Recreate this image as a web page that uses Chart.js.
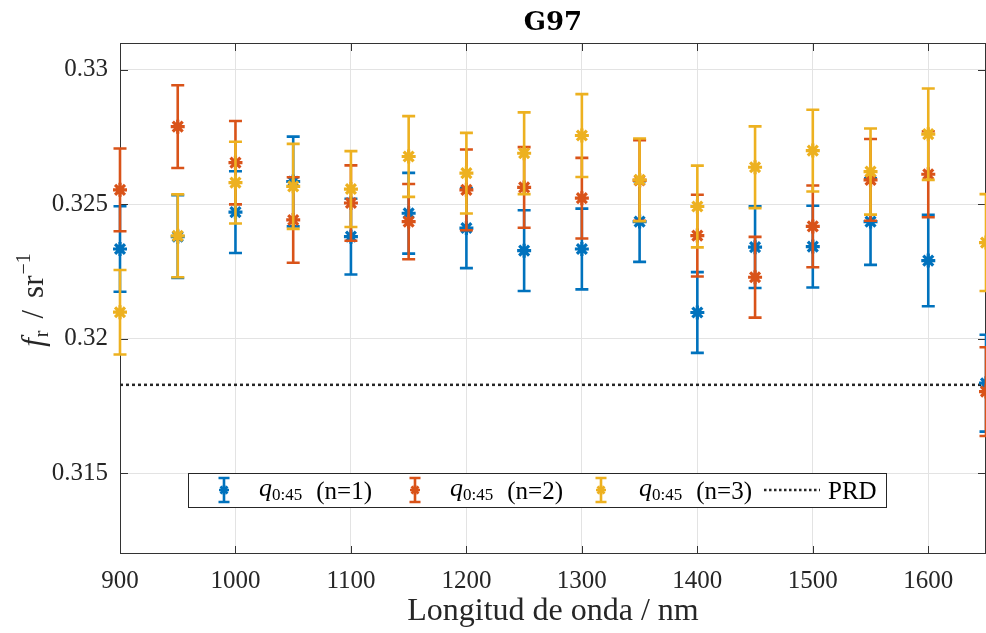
<!DOCTYPE html>
<html>
<head>
<meta charset="utf-8">
<script src="https://cdn.jsdelivr.net/npm/chart.js@4.4.1/dist/chart.umd.min.js"></script>
<style>
  html, body { margin: 0; padding: 0; background: #fff; }
</style>
</head>
<body>
<canvas id="chart" width="986" height="633"></canvas>
<script>
// wavelengths (nm)
const wavelengths = [900, 950, 1000, 1050, 1100, 1150, 1200, 1250, 1300, 1350, 1400, 1450, 1500, 1550, 1600, 1650];

// f_r values and uncertainties for each n
const fr_n1 = [0.32334, 0.32380, 0.32471, 0.32585, 0.32380, 0.32467, 0.32412, 0.32328, 0.32334, 0.32436, 0.32098, 0.32341, 0.32343, 0.32436, 0.32291, 0.31835];
const u_n1  = [0.00159, 0.00154, 0.00152, 0.00167, 0.00141, 0.00150, 0.00149, 0.00150, 0.00150, 0.00150, 0.00150, 0.00152, 0.00152, 0.00161, 0.00170, 0.00180];

const fr_n2 = [0.32554, 0.32789, 0.32655, 0.32442, 0.32505, 0.32436, 0.32554, 0.32563, 0.32523, 0.32589, 0.32384, 0.32229, 0.32418, 0.32591, 0.32612, 0.31804];
const u_n2  = [0.00154, 0.00154, 0.00155, 0.00159, 0.00140, 0.00140, 0.00150, 0.00150, 0.00150, 0.00150, 0.00152, 0.00150, 0.00152, 0.00152, 0.00160, 0.00165];

const fr_n3 = [0.32099, 0.32383, 0.32581, 0.32567, 0.32557, 0.32678, 0.32616, 0.32690, 0.32756, 0.32591, 0.32492, 0.32638, 0.32700, 0.32622, 0.32761, 0.32358];
const u_n3  = [0.00157, 0.00154, 0.00152, 0.00158, 0.00141, 0.00150, 0.00150, 0.00152, 0.00154, 0.00154, 0.00152, 0.00152, 0.00152, 0.00160, 0.00170, 0.00180];

const prdLevel = 0.31829;

const xTicks = [900, 1000, 1100, 1200, 1300, 1400, 1500, 1600];
const yTicks = [0.315, 0.32, 0.325, 0.33];
const yTickLabels = ['0.315', '0.32', '0.325', '0.33'];
const seriesLabels = ['(n=1)', '(n=2)', '(n=3)'];

const colors = ['#0072BD', '#D95319', '#EDB120'];
const serif = '"Liberation Serif", "Times New Roman", serif';

function toPoints(ys) {
    return wavelengths.map((w, i) => ({ x: w, y: ys[i] }));
}

function drawStar(ctx, x, y, r) {
    ctx.beginPath();
    for (let k = 0; k < 4; k++) {
        const a = k * Math.PI / 4;
        ctx.moveTo(x - r * Math.cos(a), y - r * Math.sin(a));
        ctx.lineTo(x + r * Math.cos(a), y + r * Math.sin(a));
    }
    ctx.stroke();
}

// error bars under each dataset's own markers
const errorBars = {
    id: 'errorBars',
    beforeDatasetDraw(chart, args) {
        const ds = chart.data.datasets[args.index];
        if (!ds.errors) return;
        const ctx = chart.ctx;
        const xs = chart.scales.x, ys = chart.scales.y;
        ctx.save();
        ctx.strokeStyle = ds.borderColor;
        ctx.lineWidth = 2.6;
        ds.data.forEach((p, i) => {
            const px = xs.getPixelForValue(p.x);
            const top = ys.getPixelForValue(p.y + ds.errors[i]);
            const bot = ys.getPixelForValue(p.y - ds.errors[i]);
            ctx.beginPath();
            ctx.moveTo(px, top); ctx.lineTo(px, bot);
            ctx.moveTo(px - 6.5, top); ctx.lineTo(px + 6.5, top);
            ctx.moveTo(px - 6.5, bot); ctx.lineTo(px + 6.5, bot);
            ctx.stroke();
        });
        ctx.restore();
    }
};

// box and inward ticks (MATLAB style)
const frame = {
    id: 'frame',
    beforeDatasetsDraw(chart) {
        const { ctx, chartArea: a, scales: { x, y } } = chart;
        ctx.save();
        ctx.strokeStyle = '#333';
        ctx.lineWidth = 1;
        ctx.strokeRect(a.left + 0.5, a.top + 0.5, a.right - a.left - 1, a.bottom - a.top - 1);
        ctx.beginPath();
        const tl = 8;
        xTicks.forEach(v => {
            const px = Math.round(x.getPixelForValue(v)) + 0.5;
            ctx.moveTo(px, a.bottom); ctx.lineTo(px, a.bottom - tl);
            ctx.moveTo(px, a.top); ctx.lineTo(px, a.top + tl);
        });
        yTicks.forEach(v => {
            const py = Math.round(y.getPixelForValue(v)) + 0.5;
            ctx.moveTo(a.left, py); ctx.lineTo(a.left + tl, py);
            ctx.moveTo(a.right, py); ctx.lineTo(a.right - tl, py);
        });
        ctx.stroke();
        ctx.restore();
    }
};

// title, axis titles and legend
const texts = {
    id: 'texts',
    afterDraw(chart) {
        const { ctx, chartArea: a } = chart;
        const cx = (a.left + a.right) / 2;
        ctx.save();
        ctx.fillStyle = '#000';
        ctx.textAlign = 'center';
        ctx.textBaseline = 'alphabetic';
        ctx.font = 'bold 26px "DejaVu Serif", serif';
        ctx.fillText('G97', cx, 30);

        ctx.fillStyle = '#262626';
        ctx.font = '32px ' + serif;
        ctx.fillText('Longitud de onda / nm', cx, 620);

        // y title: f_r / sr^-1
        ctx.save();
        ctx.translate(43, 300);
        ctx.rotate(-Math.PI / 2);
        ctx.textAlign = 'left';
        const parts = [
            { t: 'f', f: 'italic 31px ' + serif, dy: 0, gap: 1 },
            { t: 'r', f: '20px ' + serif, dy: 5, gap: 12 },
            { t: '/', f: '31px ' + serif, dy: 0, gap: 12 },
            { t: 'sr', f: '31px ' + serif, dy: 0, gap: 1 },
            { t: '\u22121', f: '20px ' + serif, dy: -13, gap: 0 }
        ];
        let total = 0;
        parts.forEach(p => { ctx.font = p.f; p.w = ctx.measureText(p.t).width; total += p.w + p.gap; });
        let cur = -total / 2;
        parts.forEach(p => { ctx.font = p.f; ctx.fillText(p.t, cur, p.dy); cur += p.w + p.gap; });
        ctx.restore();

        // legend
        const box = { left: a.left + 68, top: a.bottom - 81, w: 698, h: 34 };
        ctx.fillStyle = '#fff';
        ctx.fillRect(box.left, box.top, box.w, box.h);
        ctx.strokeStyle = '#262626';
        ctx.lineWidth = 1;
        ctx.strokeRect(box.left + 0.5, box.top + 0.5, box.w, box.h);
        const my = box.top + box.h / 2;
        const iconX = [36, 227, 413];
        const textX = [71, 262, 451];
        seriesLabels.forEach((lab, i) => {
            const ix = box.left + iconX[i];
            ctx.strokeStyle = colors[i];
            ctx.lineWidth = 2.6;
            ctx.beginPath();
            ctx.moveTo(ix, my - 12); ctx.lineTo(ix, my + 12);
            ctx.moveTo(ix - 5.5, my - 12); ctx.lineTo(ix + 5.5, my - 12);
            ctx.moveTo(ix - 5.5, my + 12); ctx.lineTo(ix + 5.5, my + 12);
            ctx.stroke();
            drawStar(ctx, ix, my, 5);

            let tx = box.left + textX[i];
            ctx.fillStyle = '#000';
            ctx.textAlign = 'left';
            ctx.font = 'italic 26px ' + serif;
            ctx.fillText('q', tx, my + 6);
            tx += ctx.measureText('q').width;
            ctx.font = '17px ' + serif;
            ctx.fillText('0:45', tx, my + 10);
            tx += ctx.measureText('0:45').width + 14;
            ctx.font = '25px ' + serif;
            ctx.fillText(lab, tx, my + 9);
        });
        ctx.strokeStyle = '#262626';
        ctx.lineWidth = 2.5;
        ctx.setLineDash([2.5, 2.5]);
        ctx.beginPath();
        ctx.moveTo(box.left + 576, my); ctx.lineTo(box.left + 632, my);
        ctx.stroke();
        ctx.setLineDash([]);
        ctx.fillStyle = '#000';
        ctx.font = '25px ' + serif;
        ctx.fillText('PRD', box.left + 640, my + 9);
        ctx.restore();
    }
};

const seriesDefs = [
    { v: fr_n1, u: u_n1, order: 2 },
    { v: fr_n2, u: u_n2, order: 1 },
    { v: fr_n3, u: u_n3, order: 0 }
];

const datasets = seriesDefs.map((s, i) => ({
    label: seriesLabels[i],
    data: toPoints(s.v),
    errors: s.u,
    borderColor: colors[i],
    backgroundColor: colors[i],
    pointStyle: 'star',
    pointRadius: 7,
    pointBorderWidth: 3.2,
    showLine: false,
    clip: false,
    order: s.order
}));

datasets.push({
    label: 'PRD',
    data: [{ x: wavelengths[0], y: prdLevel }, { x: wavelengths[wavelengths.length - 1], y: prdLevel }],
    borderColor: '#262626',
    borderWidth: 2.5,
    borderDash: [3, 3],
    pointRadius: 0,
    showLine: true,
    order: 3
});

new Chart(document.getElementById('chart'), {
    type: 'scatter',
    data: { datasets: datasets },
    options: {
        responsive: false,
        devicePixelRatio: 1,
        animation: false,
        layout: { autoPadding: false, padding: { top: 43, left: 0, right: 0, bottom: 0 } },
        plugins: { legend: { display: false }, tooltip: { enabled: false } },
        scales: {
            x: {
                type: 'linear',
                min: 900,
                max: 1650,
                afterBuildTicks: s => { s.ticks = xTicks.map(v => ({ value: v })); },
                afterFit: s => { s.height = 79; s.paddingRight = 0; s.paddingLeft = 0; },
                grid: { color: '#e3e3e3', lineWidth: 1, drawTicks: false },
                border: { display: false },
                ticks: {
                    padding: 12,
                    color: '#262626',
                    font: { family: serif, size: 25 },
                    maxRotation: 0,
                    callback: v => String(v)
                }
            },
            y: {
                type: 'linear',
                min: 0.312,
                max: 0.331,
                afterBuildTicks: s => { s.ticks = yTicks.map(v => ({ value: v })); },
                afterFit: s => { s.width = 120; s.paddingTop = 0; s.paddingBottom = 0; },
                grid: { color: '#e3e3e3', lineWidth: 1, drawTicks: false },
                border: { display: false },
                ticks: {
                    padding: 12,
                    color: '#262626',
                    font: { family: serif, size: 25 },
                    callback: (v, i) => yTickLabels[i]
                }
            }
        }
    },
    plugins: [frame, errorBars, texts]
});
</script>
</body>
</html>
